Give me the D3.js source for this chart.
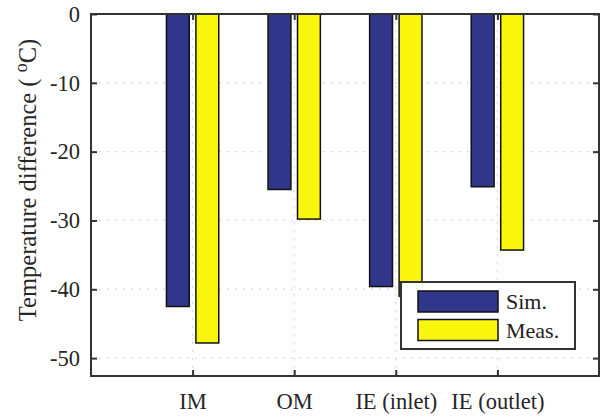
<!DOCTYPE html>
<html>
<head>
<meta charset="utf-8">
<script src="https://cdn.jsdelivr.net/npm/d3@7"></script>
<style>
  body { margin: 0; background: #fff; }
  svg { display: block; font-family: "Liberation Serif", "Times New Roman", serif; }
</style>
</head>
<body>
<svg width="601" height="417"></svg>
<script>
const categories = ["IM", "OM", "IE (inlet)", "IE (outlet)"];
const simValues = [-42.5, -25.5, -39.6, -25.1];
const measValues = [-47.8, -29.8, -41.0, -34.3];
const yTicks = [0, -10, -20, -30, -40, -50];
const seriesNames = ["Sim.", "Meas."];
const seriesColors = ["#30368a", "#f9f50c"];

const svg = d3.select("svg");
const m = { left: 91, right: 599, top: 14, bottom: 376 };

const x = d3.scaleLinear().domain([0, 5]).range([m.left, m.right]);
const y = d3.scaleLinear().domain([-52.6, 0]).range([m.bottom, m.top]);

const barW = 0.225, off = 0.145;

// grid
const grid = svg.append("g")
  .attr("stroke", "#cfcfcf")
  .attr("stroke-width", 1.2)
  .attr("stroke-dasharray", "1.5,6.5");
grid.selectAll(".gy").data(yTicks.slice(1)).enter()
  .append("line")
  .attr("x1", m.left).attr("x2", m.right)
  .attr("y1", d => y(d)).attr("y2", d => y(d));
grid.selectAll(".gx").data(categories).enter()
  .append("line")
  .attr("x1", (d, i) => x(i + 1)).attr("x2", (d, i) => x(i + 1))
  .attr("y1", m.top).attr("y2", m.bottom);

// bars
const series = [simValues, measValues];
series.forEach((vals, s) => {
  svg.append("g").selectAll("rect")
    .data(vals).enter()
    .append("rect")
    .attr("x", (d, i) => x(i + 1 + (s === 0 ? -off : off) - barW / 2))
    .attr("width", x(barW) - x(0))
    .attr("y", y(0))
    .attr("height", d => y(d) - y(0))
    .attr("fill", seriesColors[s])
    .attr("stroke", "#111")
    .attr("stroke-width", 1.5);
});

// axes
const yAxis = d3.axisLeft(y).tickValues(yTicks).tickSize(-6).tickPadding(11)
  .tickFormat(d => String(d));
const yAxisR = d3.axisRight(y).tickValues(yTicks).tickSize(-6).tickFormat("");
const xAxis = d3.axisBottom(x).tickValues([1, 2, 3, 4]).tickSize(-6).tickPadding(17)
  .tickFormat(d => categories[d - 1]);
const xAxisT = d3.axisTop(x).tickValues([1, 2, 3, 4]).tickSize(-6).tickFormat("");

function style(g) {
  g.select(".domain").remove();
  g.selectAll(".tick line").attr("stroke", "#333").attr("stroke-width", 2);
  g.selectAll("text").attr("fill", "#262626").style("font-size", "22.5px")
    .style("font-family", "'Liberation Serif', serif");
}
svg.append("g").attr("transform", `translate(${m.left},0)`).call(yAxis).call(style);
svg.append("g").attr("transform", `translate(${m.right},0)`).call(yAxisR).call(style);
svg.append("g").attr("transform", `translate(0,${m.bottom})`).call(xAxis).call(style);
svg.append("g").attr("transform", `translate(0,${m.top})`).call(xAxisT).call(style);

svg.append("rect")
  .attr("x", m.left).attr("y", m.top)
  .attr("width", m.right - m.left).attr("height", m.bottom - m.top)
  .attr("fill", "none").attr("stroke", "#333").attr("stroke-width", 2);

// y label
const lab = svg.append("text")
  .attr("transform", "translate(36,180) rotate(-90)")
  .attr("text-anchor", "middle")
  .attr("fill", "#262626")
  .style("font-size", "24.5px")
  .style("white-space", "pre");
lab.append("tspan").text("Temperature difference ( ");
lab.append("tspan").attr("dy", -9).style("font-size", "18px").text("o");
lab.append("tspan").attr("dy", 9).text("C)");

// legend
const lg = svg.append("g").attr("transform", "translate(401,282)");
lg.append("rect").attr("width", 174).attr("height", 67)
  .attr("fill", "#fff").attr("stroke", "#333").attr("stroke-width", 2);
seriesNames.forEach((n, i) => {
  lg.append("rect").attr("x", 17).attr("y", 9 + i * 28.5)
    .attr("width", 80).attr("height", 21)
    .attr("fill", seriesColors[i]).attr("stroke", "#111").attr("stroke-width", 1.5);
  lg.append("text").attr("x", 105).attr("y", 27 + i * 28.5)
    .attr("fill", "#222").style("font-size", "22px").text(n);
});
</script>
</body>
</html>
